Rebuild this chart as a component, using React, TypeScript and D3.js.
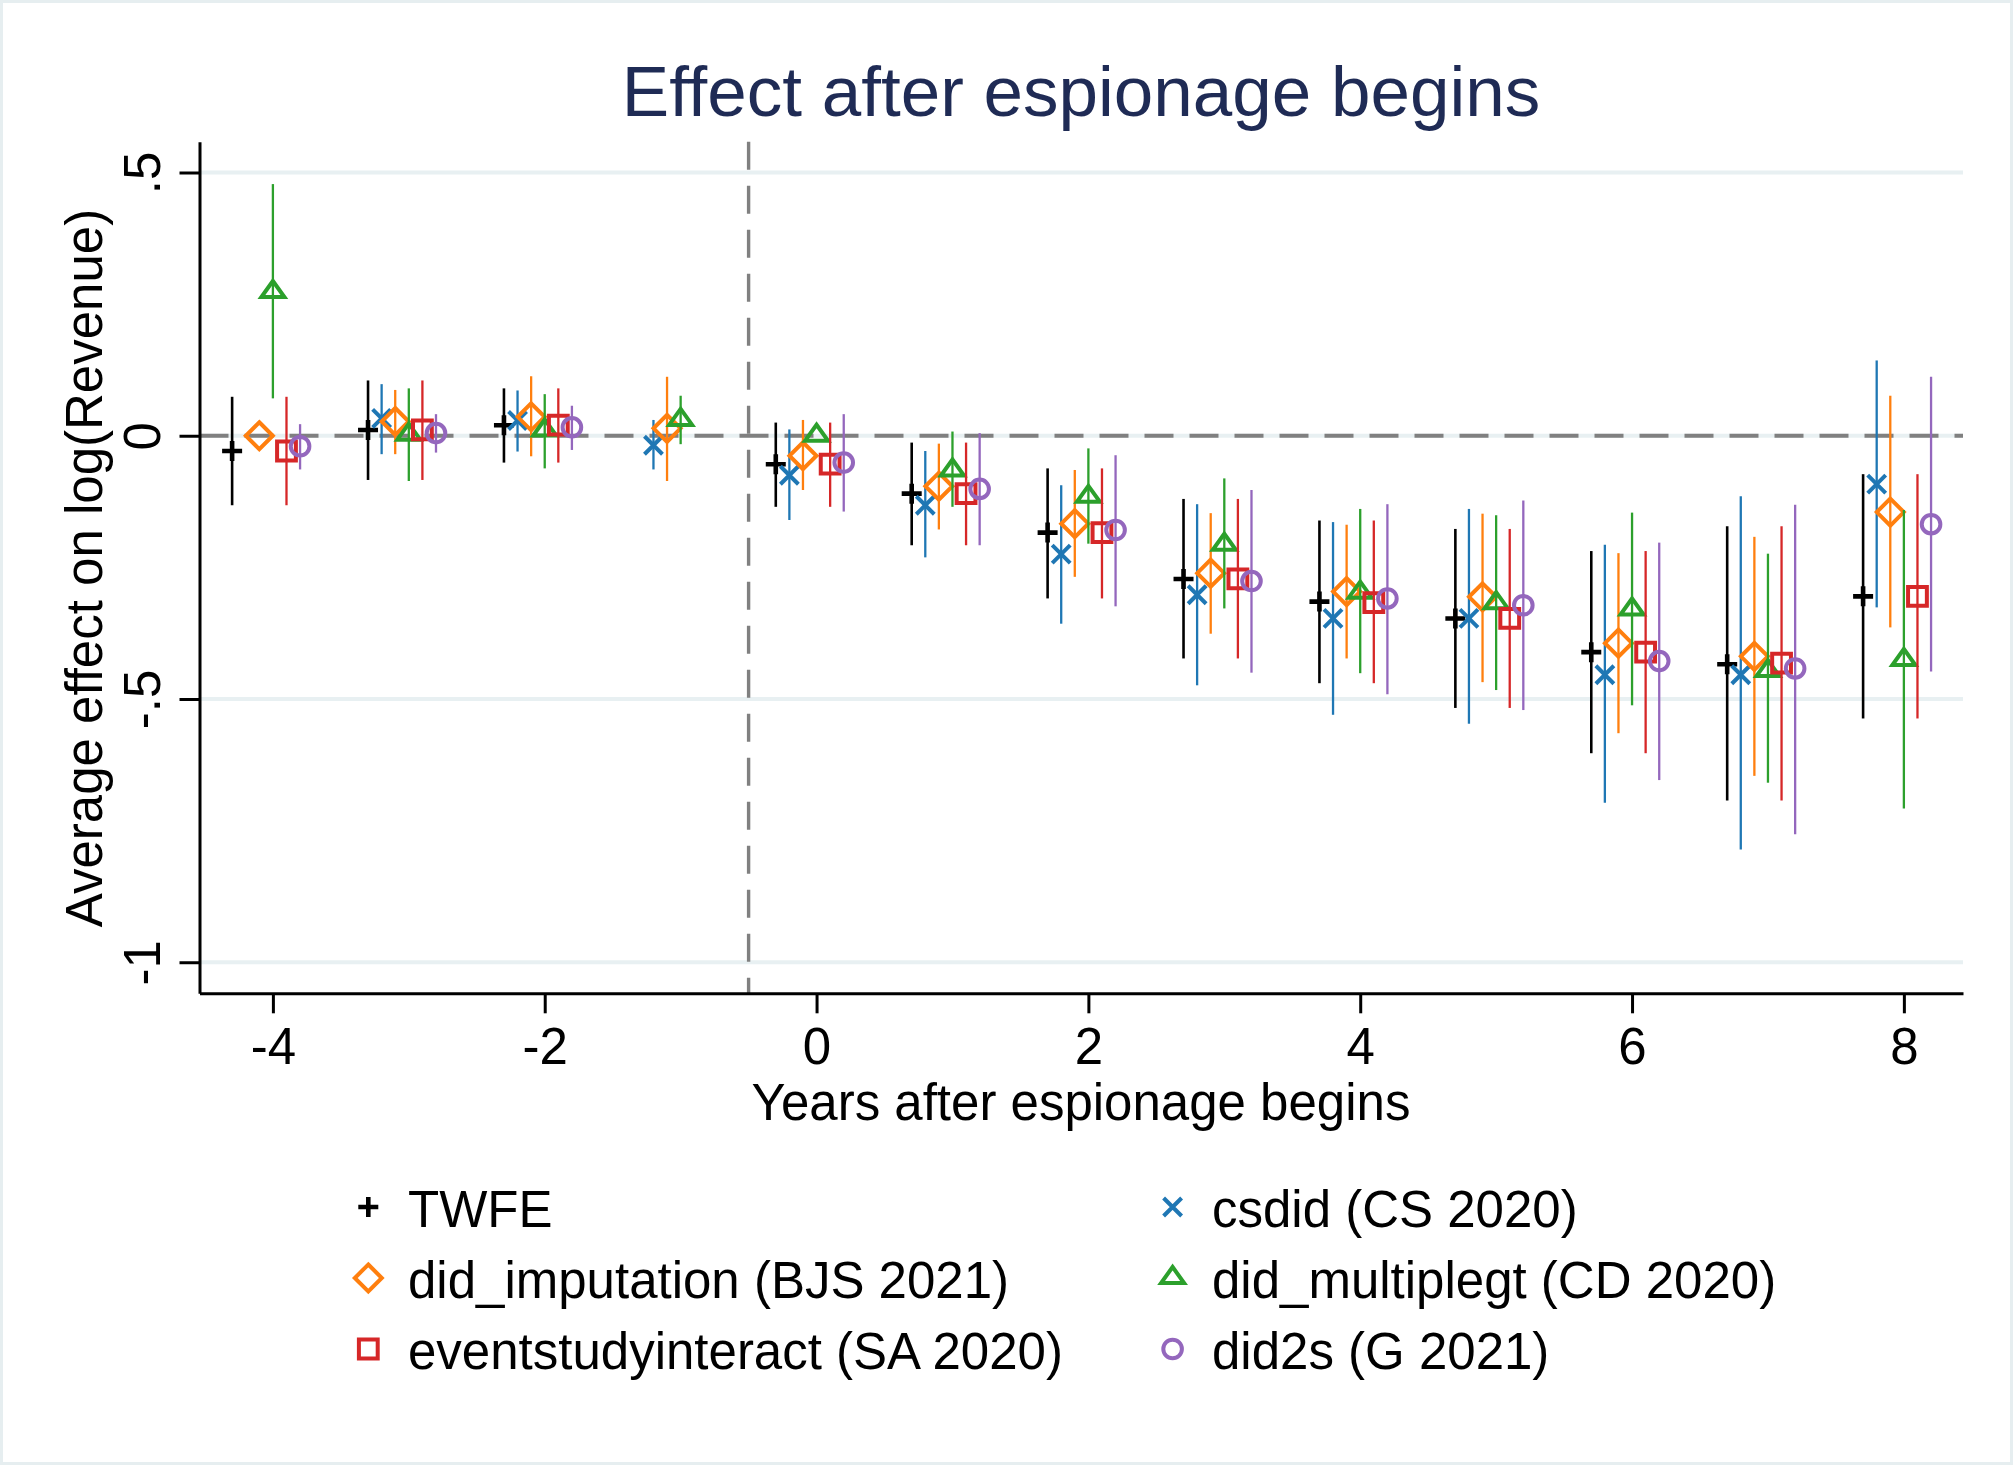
import React, { useEffect, useRef } from "react";
import * as d3 from "d3";

// ---------------- data ----------------
const periods = [-4, -3, -2, -1, 0, 1, 2, 3, 4, 5, 6, 7, 8];

const twfeEst = [-0.029, 0.011, 0.02, null, -0.054, -0.11, -0.184, -0.272, -0.315, -0.347, -0.411, -0.434, -0.305];
const twfeLo = [-0.132, -0.084, -0.051, null, -0.135, -0.208, -0.309, -0.423, -0.47, -0.517, -0.603, -0.693, -0.537];
const twfeHi = [0.074, 0.105, 0.09, null, 0.025, -0.013, -0.062, -0.12, -0.161, -0.177, -0.219, -0.172, -0.073];

const csEst = [null, 0.033, 0.029, -0.018, -0.075, -0.132, -0.225, -0.302, -0.347, -0.347, -0.454, -0.454, -0.092];
const csLo = [null, -0.035, -0.03, -0.064, -0.16, -0.231, -0.357, -0.474, -0.53, -0.547, -0.697, -0.786, -0.326];
const csHi = [null, 0.098, 0.086, 0.03, 0.012, -0.029, -0.094, -0.13, -0.164, -0.139, -0.207, -0.115, 0.143];

const bjsEst = [0.0, 0.027, 0.036, 0.014, -0.038, -0.096, -0.167, -0.261, -0.296, -0.306, -0.394, -0.419, -0.145];
const bjsLo = [null, -0.035, -0.039, -0.086, -0.103, -0.178, -0.268, -0.376, -0.423, -0.468, -0.565, -0.646, -0.364];
const bjsHi = [null, 0.087, 0.113, 0.112, 0.03, -0.015, -0.065, -0.147, -0.169, -0.148, -0.223, -0.192, 0.076];

const cdEst = [0.273, 0.002, 0.01, 0.03, 0.0, -0.066, -0.116, -0.207, -0.298, -0.318, -0.33, -0.447, -0.426];
const cdLo = [0.071, -0.086, -0.062, -0.016, null, -0.135, -0.205, -0.328, -0.451, -0.483, -0.512, -0.659, -0.708];
const cdHi = [0.478, 0.09, 0.079, 0.076, null, 0.008, -0.024, -0.081, -0.139, -0.151, -0.146, -0.224, -0.141];

const saEst = [-0.029, 0.011, 0.02, null, -0.054, -0.11, -0.184, -0.272, -0.317, -0.347, -0.411, -0.432, -0.305];
const saLo = [-0.132, -0.084, -0.051, null, -0.135, -0.208, -0.309, -0.423, -0.47, -0.517, -0.603, -0.693, -0.537];
const saHi = [0.074, 0.105, 0.09, null, 0.025, -0.013, -0.062, -0.12, -0.161, -0.177, -0.219, -0.172, -0.073];

const gEst = [-0.02, 0.005, 0.016, null, -0.051, -0.101, -0.179, -0.276, -0.309, -0.322, -0.428, -0.442, -0.168];
const gLo = [-0.064, -0.032, -0.027, null, -0.144, -0.208, -0.324, -0.45, -0.491, -0.521, -0.654, -0.757, -0.448];
const gHi = [0.022, 0.041, 0.057, null, 0.041, 0.005, -0.037, -0.103, -0.13, -0.123, -0.203, -0.131, 0.112];

const xTicks = [-4, -2, 0, 2, 4, 6, 8];
const yTicks = [-1, -0.5, 0, 0.5];
const yTickLabels = ["-1", "-.5", "0", ".5"];

const titleText = "Effect after espionage begins";
const xTitle = "Years after espionage begins";
const yTitle = "Average effect on log(Revenue)";

type Shape = "plus" | "x" | "diamond" | "triangle" | "square" | "circle";
interface Series {
  label: string;
  color: string;
  shape: Shape;
  offset: number;
  est: (number | null)[];
  lo: (number | null)[];
  hi: (number | null)[];
  legendCol: number;
  legendRow: number;
}

const series: Series[] = [
  { label: "TWFE", color: "#000000", shape: "plus", offset: -0.3, est: twfeEst, lo: twfeLo, hi: twfeHi, legendCol: 0, legendRow: 0 },
  { label: "csdid (CS 2020)", color: "#1f77b4", shape: "x", offset: -0.2, est: csEst, lo: csLo, hi: csHi, legendCol: 1, legendRow: 0 },
  { label: "did_imputation (BJS 2021)", color: "#ff7f0e", shape: "diamond", offset: -0.1, est: bjsEst, lo: bjsLo, hi: bjsHi, legendCol: 0, legendRow: 1 },
  { label: "did_multiplegt (CD 2020)", color: "#2ca02c", shape: "triangle", offset: 0, est: cdEst, lo: cdLo, hi: cdHi, legendCol: 1, legendRow: 1 },
  { label: "eventstudyinteract (SA 2020)", color: "#d62728", shape: "square", offset: 0.1, est: saEst, lo: saLo, hi: saHi, legendCol: 0, legendRow: 2 },
  { label: "did2s (G 2021)", color: "#9467bd", shape: "circle", offset: 0.2, est: gEst, lo: gLo, hi: gHi, legendCol: 1, legendRow: 2 },
];

const FONT = "'Liberation Sans', Arial, Helvetica, sans-serif";
const W = 2016;
const H = 1466;

function shapePath(shape: Shape): string {
  switch (shape) {
    case "plus":
      return "M-10,0H10M0,-10V10";
    case "x":
      return "M-9,-9L9,9M-9,9L9,-9";
    case "diamond":
      return "M0,-13.5L13.5,0L0,13.5L-13.5,0Z";
    case "triangle":
      return "M0,-11L11.5,5L-11.5,5Z";
    case "square":
      return "M-9.4,-9.4H9.4V9.4H-9.4Z";
    case "circle":
      return d3.arc()({ innerRadius: 0, outerRadius: 9.3, startAngle: 0, endAngle: 2 * Math.PI }) as string;
  }
}

function drawMarker(g: d3.Selection<SVGGElement, unknown, null, undefined>, s: Series, cx: number, cy: number) {
  if (s.shape === "circle") {
    g.append("circle")
      .attr("cx", cx)
      .attr("cy", cy)
      .attr("r", 9.3)
      .attr("fill", "none")
      .attr("stroke", s.color)
      .attr("stroke-width", 4);
  } else {
    g.append("path")
      .attr("d", shapePath(s.shape))
      .attr("transform", `translate(${cx},${cy})`)
      .attr("fill", "none")
      .attr("stroke", s.color)
      .attr("stroke-width", s.shape === "plus" ? 4.6 : 4)
      .attr("stroke-linejoin", "miter");
  }
}

export default function App() {
  const ref = useRef<SVGSVGElement>(null);

  useEffect(() => {
    const svg = d3.select(ref.current);
    svg.selectAll("*").remove();

    const x = d3.scaleLinear().domain([-4.54, 8.435]).range([199.5, 1963]);
    const y = d3.scaleLinear().domain([-1.059, 0.5585]).range([993.3, 141.7]);

    // background + frame
    svg.append("rect").attr("x", 0).attr("y", 0).attr("width", W).attr("height", H).attr("fill", "#ffffff");
    svg
      .append("rect")
      .attr("x", 1.5)
      .attr("y", 1.5)
      .attr("width", 2010)
      .attr("height", 1462)
      .attr("fill", "none")
      .attr("stroke", "#e6eef0")
      .attr("stroke-width", 3);

    // title
    svg
      .append("text")
      .attr("x", 1081)
      .attr("y", 116)
      .attr("text-anchor", "middle")
      .attr("font-family", FONT)
      .attr("font-size", 71)
      .attr("fill", "#1f2b55")
      .text(titleText);

    const plot = svg.append("g");

    // gridlines
    plot
      .selectAll("line.grid")
      .data(yTicks)
      .join("line")
      .attr("class", "grid")
      .attr("x1", x.range()[0])
      .attr("x2", x.range()[1])
      .attr("y1", (d) => y(d))
      .attr("y2", (d) => y(d))
      .attr("stroke", "#e8f0f2")
      .attr("stroke-width", 4);

    // reference lines
    plot
      .append("line")
      .attr("x1", x.range()[0])
      .attr("x2", x.range()[1])
      .attr("y1", y(0))
      .attr("y2", y(0))
      .attr("stroke", "#808080")
      .attr("stroke-width", 4.2)
      .attr("stroke-dasharray", "29,16");
    plot
      .append("line")
      .attr("x1", x(-0.5))
      .attr("x2", x(-0.5))
      .attr("y1", y.range()[1])
      .attr("y2", y.range()[0])
      .attr("stroke", "#808080")
      .attr("stroke-width", 3.4)
      .attr("stroke-dasharray", "28,16");

    // axes
    const xAxis = d3
      .axisBottom(x)
      .tickValues(xTicks)
      .tickSize(20)
      .tickSizeOuter(0)
      .tickFormat((d) => {
        const v = d as number;
        return (v < 0 ? "-" : "") + Math.abs(v);
      });
    const gx = svg.append("g").attr("transform", `translate(0,${y.range()[0]})`).call(xAxis);
    gx.select(".domain").attr("stroke", "#000").attr("stroke-width", 3);
    gx.selectAll(".tick line").attr("stroke", "#000").attr("stroke-width", 3);
    gx.selectAll(".tick text")
      .attr("y", 70.7)
      .attr("dy", null)
      .attr("font-family", FONT)
      .attr("font-size", 51)
      .attr("fill", "#000");

    const yAxis = d3
      .axisLeft(y)
      .tickValues(yTicks)
      .tickSize(20)
      .tickSizeOuter(0)
      .tickFormat((d, i) => yTickLabels[i]);
    const gy = svg.append("g").attr("transform", `translate(${x.range()[0]},0)`).call(yAxis);
    gy.select(".domain").attr("stroke", "#000").attr("stroke-width", 3);
    gy.selectAll(".tick line").attr("stroke", "#000").attr("stroke-width", 3);
    gy.selectAll(".tick text")
      .attr("x", null)
      .attr("dy", null)
      .attr("text-anchor", "middle")
      .attr("transform", "translate(-40,0) rotate(-90)")
      .attr("font-family", FONT)
      .attr("font-size", 51)
      .attr("fill", "#000");
    gx.attr("font-family", FONT);
    gy.attr("font-family", FONT);

    // axis titles
    svg
      .append("text")
      .attr("x", 1081)
      .attr("y", 1120)
      .attr("text-anchor", "middle")
      .attr("font-family", FONT)
      .attr("font-size", 51)
      .attr("fill", "#000")
      .text(xTitle);
    svg
      .append("text")
      .attr("transform", "translate(101.5,568) rotate(-90)")
      .attr("text-anchor", "middle")
      .attr("font-family", FONT)
      .attr("font-size", 51)
      .attr("fill", "#000")
      .text(yTitle);

    // CI lines then markers, per series
    series.forEach((s) => {
      const g = plot.append("g");
      periods.forEach((p, i) => {
        const lo = s.lo[i];
        const hi = s.hi[i];
        if (lo !== null && hi !== null) {
          g.append("line")
            .attr("x1", x(p + s.offset))
            .attr("x2", x(p + s.offset))
            .attr("y1", y(lo))
            .attr("y2", y(hi))
            .attr("stroke", s.color)
            .attr("stroke-width", s.shape === "plus" ? 2.6 : 2.3);
        }
      });
      periods.forEach((p, i) => {
        const e = s.est[i];
        if (e !== null) drawMarker(g, s, x(p + s.offset), y(e));
      });
    });

    // legend
    const legendColX = [368.3, 1172.6];
    const legendTextX = [408, 1212];
    const legendRowY = [1207, 1278, 1349];
    const lg = svg.append("g");
    series.forEach((s) => {
      const cy = legendRowY[s.legendRow];
      drawMarker(lg, s, legendColX[s.legendCol], cy);
      lg.append("text")
        .attr("x", legendTextX[s.legendCol])
        .attr("y", cy + 19.5)
        .attr("font-family", FONT)
        .attr("font-size", 51)
        .attr("fill", "#000")
        .text(s.label);
    });
  }, []);

  return (
    <svg
      ref={ref}
      width={W}
      height={H}
      viewBox={`0 0 ${W} ${H}`}
      style={{ position: "absolute", left: 0, top: 0, display: "block" }}
    />
  );
}
